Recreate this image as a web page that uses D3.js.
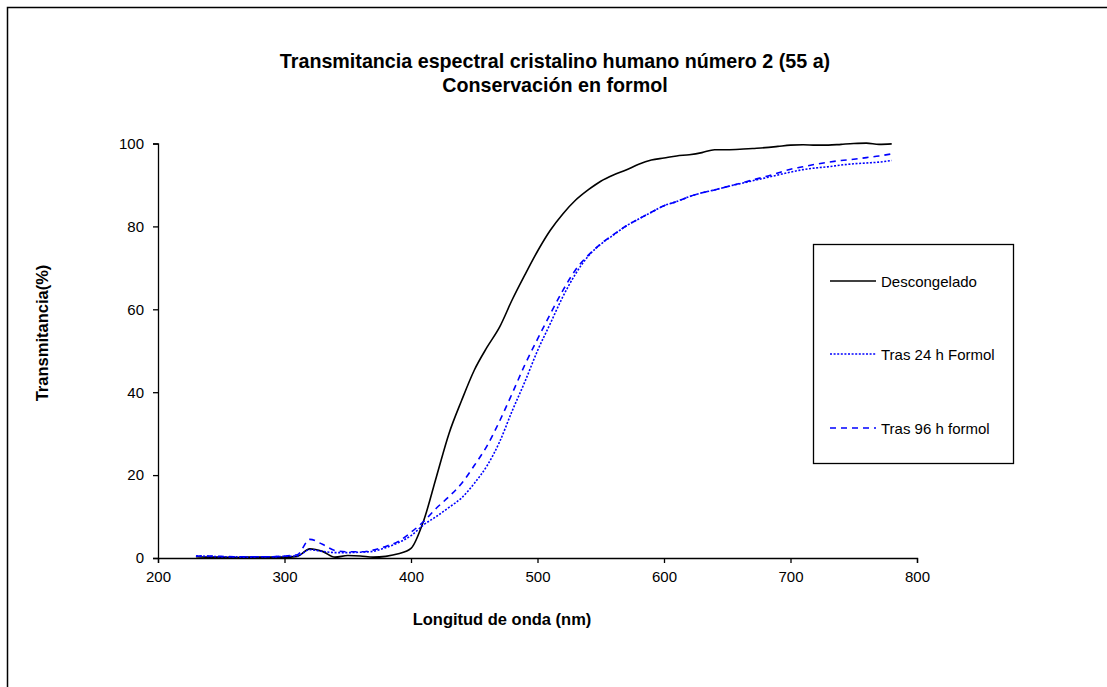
<!DOCTYPE html>
<html lang="es">
<head>
<meta charset="UTF-8">
<title>Transmitancia espectral</title>
<style>
  body, html { margin: 0; padding: 0; background: #fff; overflow: hidden; }
  svg { display: block; font-family: "Liberation Sans", Arial, sans-serif; }
</style>
</head>
<body>
<svg id="chart" width="1107" height="687"></svg>
<script src="https://cdnjs.cloudflare.com/ajax/libs/d3/7.8.5/d3.min.js"></script>
<script>
// wavelengths (nm)
const wavelengths = [230,240,250,260,270,280,290,300,310,320,330,340,350,360,370,380,390,400,
  410,420,430,440,450,460,470,480,490,500,510,520,530,540,550,560,570,580,590,600,
  610,620,630,640,650,660,670,680,690,700,710,720,730,740,750,760,770,780];

const descongelado = [0.3,0.2,0.2,0.1,0.2,0.2,0.2,0.2,0.4,2.2,1.6,0.2,0.6,0.5,0.2,0.4,1.0,2.3,
  9.0,19.5,30,38,45.3,50.8,55.7,62.3,68.3,74,79,83,86.3,88.8,90.9,92.4,93.6,95,96,96.5,
  97,97.3,97.8,98.5,98.5,98.6,98.8,99,99.3,99.6,99.7,99.6,99.6,99.8,100,100.1,99.8,99.9];

const formol24 = [0.5,0.4,0.3,0.3,0.2,0.3,0.3,0.4,0.5,2.0,1.6,1.3,1.3,1.4,1.6,2.5,3.7,5.4,
  8.0,10,12.2,14.5,18,22.2,28,35.5,42.5,50,56.5,63,68.5,72.8,75.7,77.9,80.1,81.8,83.4,85,
  86,87.2,88.1,88.8,89.6,90.3,91,91.7,92.4,93.1,93.7,94.1,94.4,94.8,95.1,95.3,95.5,95.9];

const formol96 = [0.5,0.5,0.4,0.3,0.3,0.3,0.3,0.5,0.8,4.5,3.3,1.8,1.5,1.5,1.9,2.8,4.0,6.2,
  8.8,12,14.8,18,22.3,27,33,39.7,46.6,52.8,58.8,64.5,69.5,73,75.8,78,80.1,81.8,83.4,85,
  86,87.2,88.1,88.8,89.6,90.4,91.2,92,92.9,93.8,94.4,95,95.5,95.9,96.2,96.6,97,97.5];

const xTicks = [200, 300, 400, 500, 600, 700, 800];
const yTicks = [0, 20, 40, 60, 80, 100];

const series = [
  { name: "Descongelado", values: descongelado, color: "#000000", dash: null },
  { name: "Tras 24 h Formol", values: formol24, color: "#0000ff", dash: "2,1.6" },
  { name: "Tras 96 h formol", values: formol96, color: "#0000ff", dash: "6,5" }
];

const svg = d3.select("#chart");

// outer chart border (only top/left visible in the picture)
svg.append("rect")
  .attr("x", 7.5).attr("y", 7.5)
  .attr("width", 1200).attr("height", 800)
  .attr("fill", "none").attr("stroke", "#000").attr("stroke-width", 1.5);

const plotLeft = 158, plotRight = 917, plotTop = 143.5, plotBottom = 558;

const x = d3.scaleLinear().domain([200, 800]).range([plotLeft, plotRight]);
const y = d3.scaleLinear().domain([0, 100]).range([plotBottom, plotTop]);

// title
const title = svg.append("text")
  .attr("text-anchor", "middle")
  .attr("font-size", 19.7).attr("font-weight", "bold");
title.append("tspan").attr("x", 555).attr("y", 68)
  .text("Transmitancia espectral cristalino humano número 2 (55 a)");
title.append("tspan").attr("x", 555).attr("y", 92)
  .text("Conservación en formol");

// axes
const xAxis = svg.append("g")
  .attr("transform", `translate(0,${plotBottom})`)
  .call(d3.axisBottom(x).tickValues(xTicks).tickSize(5).tickSizeOuter(5).tickPadding(8));
const yAxis = svg.append("g")
  .attr("transform", `translate(${plotLeft},0)`)
  .call(d3.axisLeft(y).tickValues(yTicks).tickSize(5).tickSizeOuter(5).tickPadding(9));

[xAxis, yAxis].forEach(g => {
  g.select(".domain").attr("stroke", "#000").attr("stroke-width", 1.3);
  g.selectAll(".tick line").attr("stroke", "#000").attr("stroke-width", 1.3);
  g.selectAll(".tick text").attr("font-size", 15).attr("fill", "#000")
    .attr("font-family", "'Liberation Sans', Arial, sans-serif");
});

// axis titles
svg.append("text")
  .attr("x", 502).attr("y", 625)
  .attr("text-anchor", "middle")
  .attr("font-size", 16.5).attr("font-weight", "bold")
  .text("Longitud de onda (nm)");

svg.append("text")
  .attr("transform", "translate(48,333) rotate(-90)")
  .attr("text-anchor", "middle")
  .attr("font-size", 16.5).attr("font-weight", "bold")
  .text("Transmitancia(%)");

// lines
const line = d3.line()
  .x((d, i) => x(wavelengths[i]))
  .y(d => y(d))
  .curve(d3.curveMonotoneX);

series.forEach(s => {
  svg.append("path")
    .datum(s.values)
    .attr("d", line)
    .attr("fill", "none")
    .attr("stroke", s.color)
    .attr("stroke-width", 1.6)
    .attr("stroke-dasharray", s.dash);
});

// legend
const legend = svg.append("g");
legend.append("rect")
  .attr("x", 813.5).attr("y", 244.5)
  .attr("width", 200).attr("height", 219)
  .attr("fill", "#fff").attr("stroke", "#000").attr("stroke-width", 1.3);

const legendY = [281, 354, 428];
series.forEach((s, i) => {
  legend.append("line")
    .attr("x1", 830).attr("x2", 876)
    .attr("y1", legendY[i]).attr("y2", legendY[i])
    .attr("stroke", s.color).attr("stroke-width", 1.6)
    .attr("stroke-dasharray", s.dash);
  legend.append("text")
    .attr("x", 881).attr("y", legendY[i] + 5.5)
    .attr("font-size", 15)
    .text(s.name);
});
</script>
</body>
</html>
